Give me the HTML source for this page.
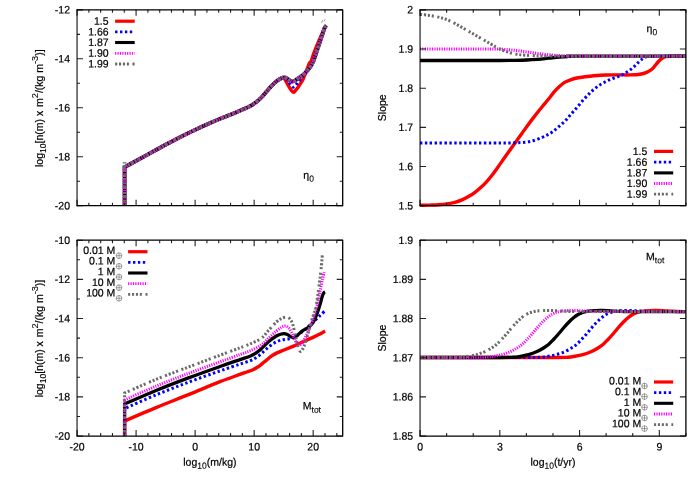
<!DOCTYPE html>
<html><head><meta charset="utf-8"><title>plot</title>
<style>
html,body{margin:0;padding:0;background:#fff;}
svg{display:block;will-change:transform;}
text{font-family:"Liberation Sans",sans-serif;fill:#000;stroke:#000;stroke-width:0.2px;}
</style></head><body>
<svg width="700" height="490" viewBox="0 0 700 490">
<rect width="700" height="490" fill="#fff"/>
<g id="p1">
<path d="M124.60 205.70L124.60 167.20 C127.98 165.35 137.77 160.00 144.90 156.10 C152.03 152.20 159.92 147.75 167.40 143.80 C174.88 139.85 182.32 136.02 189.80 132.40 C197.28 128.78 204.82 125.35 212.30 122.10 C219.78 118.85 229.25 115.15 234.70 112.90 C240.15 110.65 242.28 109.82 245.00 108.60 C247.72 107.38 249.17 106.65 251.00 105.60 C252.83 104.55 254.27 103.65 256.00 102.30 C257.73 100.95 259.65 99.28 261.40 97.50 C263.15 95.72 264.72 93.62 266.50 91.60 C268.28 89.58 270.27 87.25 272.10 85.40 C273.93 83.55 275.70 81.78 277.50 80.50 C279.30 79.22 281.75 78.02 282.90 77.70 C284.05 77.38 283.90 78.02 284.40 78.60 C284.90 79.18 285.37 80.25 285.90 81.20 C286.43 82.15 287.02 83.28 287.60 84.30 C288.18 85.32 288.75 86.25 289.40 87.30 C290.05 88.35 290.77 89.77 291.50 90.60 C292.23 91.43 293.02 92.47 293.80 92.30 C294.58 92.13 295.40 90.58 296.20 89.60 C297.00 88.62 297.90 87.38 298.60 86.40 C299.30 85.42 299.82 84.58 300.40 83.70 C300.98 82.82 301.55 82.08 302.10 81.10 C302.65 80.12 303.20 78.95 303.70 77.80 C304.20 76.65 304.65 75.37 305.10 74.20 C305.55 73.03 305.95 71.97 306.40 70.80 C306.85 69.63 307.32 68.43 307.80 67.20 C308.28 65.97 308.71 64.50 309.30 63.40 C309.89 62.30 310.67 62.12 311.36 60.60 C312.05 59.08 312.60 56.60 313.42 54.30 C314.24 52.00 315.27 49.30 316.29 46.80 C317.30 44.30 318.53 41.57 319.53 39.30 C320.53 37.03 321.51 34.95 322.30 33.20 C323.10 31.45 323.80 29.87 324.30 28.80 C324.80 27.73 324.97 27.33 325.30 26.80 C325.63 26.27 326.13 25.80 326.30 25.60" fill="none" stroke="#ff0000" stroke-width="3.40" stroke-linejoin="miter"/>
<path d="M124.60 205.70L124.60 167.20 C127.98 165.35 137.77 160.00 144.90 156.10 C152.03 152.20 159.92 147.75 167.40 143.80 C174.88 139.85 182.32 136.02 189.80 132.40 C197.28 128.78 204.82 125.35 212.30 122.10 C219.78 118.85 229.25 115.15 234.70 112.90 C240.15 110.65 242.28 109.82 245.00 108.60 C247.72 107.38 249.17 106.65 251.00 105.60 C252.83 104.55 254.27 103.65 256.00 102.30 C257.73 100.95 259.65 99.28 261.40 97.50 C263.15 95.72 264.72 93.62 266.50 91.60 C268.28 89.58 270.27 87.25 272.10 85.40 C273.93 83.55 275.70 81.78 277.50 80.50 C279.30 79.22 281.65 78.05 282.90 77.70 C284.15 77.35 284.28 77.97 285.00 78.40 C285.72 78.83 286.37 79.38 287.20 80.30 C288.03 81.22 289.00 82.75 290.00 83.90 C291.00 85.05 292.07 87.20 293.20 87.20 C294.33 87.20 295.67 85.10 296.80 83.90 C297.93 82.70 299.05 81.20 300.00 80.00 C300.95 78.80 301.67 77.80 302.50 76.70 C303.33 75.60 304.20 74.45 305.00 73.40 C305.80 72.35 306.47 71.48 307.30 70.40 C308.13 69.32 309.28 67.90 310.00 66.90 C310.72 65.90 311.06 65.45 311.60 64.40 C312.14 63.35 312.60 62.28 313.21 60.60 C313.83 58.92 314.53 56.60 315.30 54.30 C316.08 52.00 317.01 49.30 317.88 46.80 C318.75 44.30 319.73 41.57 320.54 39.30 C321.34 37.03 322.07 34.95 322.70 33.20 C323.32 31.45 323.87 29.87 324.30 28.80 C324.73 27.73 324.97 27.33 325.30 26.80 C325.63 26.27 326.13 25.80 326.30 25.60" fill="none" stroke="#0000ff" stroke-width="3.00" stroke-linejoin="miter" stroke-dasharray="2.4 2.5"/>
<path d="M124.60 205.70L124.60 167.20 C127.98 165.35 137.77 160.00 144.90 156.10 C152.03 152.20 159.92 147.75 167.40 143.80 C174.88 139.85 182.32 136.02 189.80 132.40 C197.28 128.78 204.82 125.35 212.30 122.10 C219.78 118.85 229.25 115.15 234.70 112.90 C240.15 110.65 242.28 109.82 245.00 108.60 C247.72 107.38 249.17 106.65 251.00 105.60 C252.83 104.55 254.27 103.65 256.00 102.30 C257.73 100.95 259.65 99.28 261.40 97.50 C263.15 95.72 264.72 93.62 266.50 91.60 C268.28 89.58 270.27 87.25 272.10 85.40 C273.93 83.55 275.70 81.80 277.50 80.50 C279.30 79.20 281.57 78.08 282.90 77.60 C284.23 77.12 284.67 77.37 285.50 77.60 C286.33 77.83 287.10 78.48 287.90 79.00 C288.70 79.52 289.53 80.28 290.30 80.70 C291.07 81.12 291.80 81.47 292.50 81.50 C293.20 81.53 293.85 81.22 294.50 80.90 C295.15 80.58 295.48 80.25 296.40 79.60 C297.32 78.95 298.80 77.87 300.00 77.00 C301.20 76.13 302.42 75.42 303.60 74.40 C304.78 73.38 306.03 72.08 307.10 70.90 C308.17 69.72 309.22 68.35 310.00 67.30 C310.78 66.25 311.18 65.72 311.80 64.60 C312.42 63.48 313.03 62.32 313.70 60.60 C314.37 58.88 315.03 56.60 315.80 54.30 C316.57 52.00 317.47 49.30 318.30 46.80 C319.13 44.30 320.05 41.57 320.80 39.30 C321.55 37.03 322.22 34.95 322.80 33.20 C323.38 31.45 323.88 29.87 324.30 28.80 C324.72 27.73 324.97 27.33 325.30 26.80 C325.63 26.27 326.13 25.80 326.30 25.60" fill="none" stroke="#000000" stroke-width="3.80" stroke-linejoin="miter"/>
<path d="M124.60 205.70L124.60 167.20 C127.98 165.35 137.77 160.00 144.90 156.10 C152.03 152.20 159.92 147.75 167.40 143.80 C174.88 139.85 182.32 136.02 189.80 132.40 C197.28 128.78 204.82 125.35 212.30 122.10 C219.78 118.85 229.25 115.15 234.70 112.90 C240.15 110.65 242.28 109.82 245.00 108.60 C247.72 107.38 249.17 106.65 251.00 105.60 C252.83 104.55 254.27 103.65 256.00 102.30 C257.73 100.95 259.65 99.28 261.40 97.50 C263.15 95.72 264.72 93.62 266.50 91.60 C268.28 89.58 270.27 87.25 272.10 85.40 C273.93 83.55 275.70 81.80 277.50 80.50 C279.30 79.20 281.57 78.08 282.90 77.60 C284.23 77.12 284.67 77.37 285.50 77.60 C286.33 77.83 287.10 78.48 287.90 79.00 C288.70 79.52 289.53 80.28 290.30 80.70 C291.07 81.12 291.80 81.47 292.50 81.50 C293.20 81.53 293.85 81.22 294.50 80.90 C295.15 80.58 295.48 80.25 296.40 79.60 C297.32 78.95 298.80 77.87 300.00 77.00 C301.20 76.13 302.42 75.42 303.60 74.40 C304.78 73.38 306.03 72.08 307.10 70.90 C308.17 69.72 309.22 68.35 310.00 67.30 C310.78 66.25 311.18 65.72 311.80 64.60 C312.42 63.48 313.03 62.32 313.70 60.60 C314.37 58.88 315.03 56.60 315.80 54.30 C316.57 52.00 317.47 49.30 318.30 46.80 C319.13 44.30 320.05 41.57 320.80 39.30 C321.55 37.03 322.22 34.95 322.80 33.20 C323.38 31.45 323.88 29.87 324.30 28.80 C324.72 27.73 324.97 27.33 325.30 26.80 C325.63 26.27 326.13 25.80 326.30 25.60" fill="none" stroke="#ff00ff" stroke-width="3.80" stroke-linejoin="miter" stroke-dasharray="1.2 1.2"/>
<path d="M124.60 205.70L124.60 162.30L124.60 167.20 C127.98 165.35 137.77 160.00 144.90 156.10 C152.03 152.20 159.92 147.75 167.40 143.80 C174.88 139.85 182.32 136.02 189.80 132.40 C197.28 128.78 204.82 125.35 212.30 122.10 C219.78 118.85 229.25 115.15 234.70 112.90 C240.15 110.65 242.28 109.82 245.00 108.60 C247.72 107.38 249.17 106.65 251.00 105.60 C252.83 104.55 254.27 103.65 256.00 102.30 C257.73 100.95 259.65 99.28 261.40 97.50 C263.15 95.72 264.72 93.62 266.50 91.60 C268.28 89.58 270.27 87.25 272.10 85.40 C273.93 83.55 275.70 81.80 277.50 80.50 C279.30 79.20 281.57 78.08 282.90 77.60 C284.23 77.12 284.67 77.37 285.50 77.60 C286.33 77.83 287.10 78.48 287.90 79.00 C288.70 79.52 289.53 80.28 290.30 80.70 C291.07 81.12 291.80 81.47 292.50 81.50 C293.20 81.53 293.85 81.22 294.50 80.90 C295.15 80.58 295.48 80.25 296.40 79.60 C297.32 78.95 298.80 77.87 300.00 77.00 C301.20 76.13 302.42 75.42 303.60 74.40 C304.78 73.38 306.03 72.08 307.10 70.90 C308.17 69.72 309.22 68.35 310.00 67.30 C310.78 66.25 311.18 65.72 311.80 64.60 C312.42 63.48 313.03 62.32 313.70 60.60 C314.37 58.88 315.03 56.60 315.80 54.30 C316.57 52.00 317.47 49.30 318.30 46.80 C319.13 44.30 320.05 41.57 320.80 39.30 C321.55 37.03 322.22 34.95 322.80 33.20 C323.38 31.45 323.88 29.87 324.30 28.80 C324.72 27.73 324.97 27.33 325.30 26.80 C325.63 26.27 326.13 25.80 326.30 25.60" fill="none" stroke="#6a6a6a" stroke-width="3.80" stroke-linejoin="miter" stroke-dasharray="2.1 1.8 2.1 1.8 2.1 1.8 2.1 3.6"/>
<path d="M321.6 22.6L322.8 20.2M323.9 21.2L325.2 19.4" stroke="#888" stroke-width="0.9" fill="none"/>
</g>
<g id="p3">
<path d="M124.60 436.05L124.60 420.90 C129.83 418.68 145.35 411.98 156.00 407.60 C166.65 403.22 177.83 398.92 188.50 394.60 C199.17 390.28 211.42 385.07 220.00 381.70 C228.58 378.33 235.50 376.02 240.00 374.40 C244.50 372.78 244.85 372.77 247.00 372.00 C249.15 371.23 251.18 370.58 252.90 369.80 C254.62 369.02 255.88 368.22 257.30 367.30 C258.72 366.38 259.82 365.55 261.40 364.30 C262.98 363.05 265.02 361.23 266.80 359.80 C268.58 358.37 270.32 356.90 272.10 355.70 C273.88 354.50 275.70 353.48 277.50 352.60 C279.30 351.72 280.22 351.48 282.90 350.40 C285.58 349.32 290.03 347.65 293.60 346.10 C297.17 344.55 300.73 342.72 304.30 341.10 C307.87 339.48 311.53 338.07 315.00 336.40 C318.47 334.73 323.42 331.98 325.10 331.10" fill="none" stroke="#ff0000" stroke-width="3.40" stroke-linejoin="miter"/>
<path d="M124.60 436.05L124.60 408.60 C129.83 406.32 145.35 399.30 156.00 394.90 C166.65 390.50 177.83 386.20 188.50 382.20 C199.17 378.20 211.42 373.92 220.00 370.90 C228.58 367.88 235.00 365.80 240.00 364.10 C245.00 362.40 247.50 361.67 250.00 360.70 C252.50 359.73 253.25 359.35 255.00 358.30 C256.75 357.25 258.72 355.85 260.50 354.40 C262.28 352.95 263.95 351.12 265.70 349.60 C267.45 348.08 269.22 346.60 271.00 345.30 C272.78 344.00 274.73 342.65 276.40 341.80 C278.07 340.95 279.57 340.60 281.00 340.20 C282.43 339.80 283.58 339.63 285.00 339.40 C286.42 339.17 288.07 339.12 289.50 338.80 C290.93 338.48 292.02 338.27 293.60 337.50 C295.18 336.73 297.22 335.45 299.00 334.20 C300.78 332.95 302.53 331.47 304.30 330.00 C306.07 328.53 307.82 327.00 309.60 325.40 C311.38 323.80 313.27 322.03 315.00 320.40 C316.73 318.77 318.32 317.22 320.00 315.60 C321.68 313.98 324.25 311.52 325.10 310.70" fill="none" stroke="#0000ff" stroke-width="3.00" stroke-linejoin="miter" stroke-dasharray="2.4 2.5"/>
<path d="M124.60 436.05L124.60 404.10 C129.83 401.83 145.35 394.87 156.00 390.50 C166.65 386.13 177.83 381.90 188.50 377.90 C199.17 373.90 211.42 369.55 220.00 366.50 C228.58 363.45 235.00 361.32 240.00 359.60 C245.00 357.88 247.50 357.20 250.00 356.20 C252.50 355.20 253.25 354.73 255.00 353.60 C256.75 352.47 258.72 350.95 260.50 349.40 C262.28 347.85 263.95 345.93 265.70 344.30 C267.45 342.67 269.22 340.98 271.00 339.60 C272.78 338.22 274.82 336.90 276.40 336.00 C277.98 335.10 279.25 334.60 280.50 334.20 C281.75 333.80 282.77 333.57 283.90 333.60 C285.03 333.63 286.22 333.93 287.30 334.40 C288.38 334.87 289.35 335.87 290.40 336.40 C291.45 336.93 292.42 337.80 293.60 337.60 C294.78 337.40 296.08 336.28 297.50 335.20 C298.92 334.12 300.68 332.17 302.10 331.10 C303.52 330.03 304.75 329.58 306.00 328.80 C307.25 328.02 308.52 327.33 309.60 326.40 C310.68 325.47 311.60 324.47 312.50 323.20 C313.40 321.93 314.12 320.75 315.00 318.80 C315.88 316.85 316.90 314.08 317.80 311.50 C318.70 308.92 319.62 305.97 320.40 303.30 C321.18 300.63 321.90 297.28 322.50 295.50 C323.10 293.72 323.57 293.17 324.00 292.60 C324.43 292.03 324.92 292.18 325.10 292.10" fill="none" stroke="#000000" stroke-width="3.30" stroke-linejoin="miter"/>
<path d="M124.60 436.05L124.60 399.90 C129.83 397.62 145.35 390.62 156.00 386.20 C166.65 381.78 177.83 377.45 188.50 373.40 C199.17 369.35 211.42 365.03 220.00 361.90 C228.58 358.77 235.00 356.43 240.00 354.60 C245.00 352.77 246.43 352.52 250.00 350.90 C253.57 349.28 258.23 347.08 261.40 344.90 C264.57 342.72 266.50 340.10 269.00 337.80 C271.50 335.50 274.32 332.85 276.40 331.10 C278.48 329.35 280.00 328.13 281.50 327.30 C283.00 326.47 284.18 325.98 285.40 326.10 C286.62 326.22 287.80 327.00 288.80 328.00 C289.80 329.00 290.63 330.68 291.40 332.10 C292.17 333.52 292.75 335.07 293.40 336.50 C294.05 337.93 294.70 339.45 295.30 340.70 C295.90 341.95 296.40 343.22 297.00 344.00 C297.60 344.78 298.15 345.47 298.90 345.40 C299.65 345.33 300.60 344.57 301.50 343.60 C302.40 342.63 303.38 341.20 304.30 339.60 C305.22 338.00 306.12 335.95 307.00 334.00 C307.88 332.05 308.72 329.98 309.60 327.90 C310.48 325.82 311.40 323.90 312.30 321.50 C313.20 319.10 314.05 316.92 315.00 313.50 C315.95 310.08 317.10 305.03 318.00 301.00 C318.90 296.97 319.65 292.97 320.40 289.30 C321.15 285.63 321.87 281.87 322.50 279.00 C323.13 276.13 323.92 273.25 324.20 272.10" fill="none" stroke="#ff00ff" stroke-width="3.00" stroke-linejoin="miter" stroke-dasharray="1.2 1.2"/>
<path d="M124.60 436.05L124.60 393.00 C129.83 390.73 145.35 383.73 156.00 379.40 C166.65 375.07 177.83 371.03 188.50 367.00 C199.17 362.97 211.42 358.40 220.00 355.20 C228.58 352.00 235.00 349.68 240.00 347.80 C245.00 345.92 246.43 345.48 250.00 343.90 C253.57 342.32 258.23 340.65 261.40 338.30 C264.57 335.95 266.50 332.52 269.00 329.80 C271.50 327.08 274.32 323.88 276.40 322.00 C278.48 320.12 279.88 319.32 281.50 318.50 C283.12 317.68 284.72 317.05 286.10 317.10 C287.48 317.15 288.73 317.72 289.80 318.80 C290.87 319.88 291.73 321.57 292.50 323.60 C293.27 325.63 293.80 328.50 294.40 331.00 C295.00 333.50 295.47 335.93 296.10 338.60 C296.73 341.27 297.45 344.87 298.20 347.00 C298.95 349.13 299.72 351.32 300.60 351.40 C301.48 351.48 302.53 349.47 303.50 347.50 C304.47 345.53 305.55 342.27 306.40 339.60 C307.25 336.93 307.88 334.17 308.60 331.50 C309.32 328.83 309.90 326.35 310.70 323.60 C311.50 320.85 312.50 317.87 313.40 315.00 C314.30 312.13 315.12 311.57 316.10 306.40 C317.08 301.23 318.42 290.73 319.30 284.00 C320.18 277.27 320.87 271.18 321.40 266.00 C321.93 260.82 322.32 255.08 322.50 252.90" fill="none" stroke="#6a6a6a" stroke-width="3.00" stroke-linejoin="miter" stroke-dasharray="2.1 1.8 2.1 1.8 2.1 1.8 2.1 3.6"/>
</g>
<g id="p2">
<path d="M420.05 205.20 C421.71 205.18 426.93 205.17 430.00 205.10 C433.07 205.03 435.67 205.00 438.50 204.80 C441.33 204.60 444.27 204.30 447.00 203.90 C449.73 203.50 452.40 203.07 454.90 202.40 C457.40 201.73 459.67 200.92 462.00 199.90 C464.33 198.88 466.73 197.57 468.90 196.30 C471.07 195.03 473.03 193.75 475.00 192.30 C476.97 190.85 478.78 189.35 480.70 187.60 C482.62 185.85 484.55 183.95 486.50 181.80 C488.45 179.65 490.48 177.17 492.40 174.70 C494.32 172.23 496.05 169.73 498.00 167.00 C499.95 164.27 502.10 161.13 504.10 158.30 C506.10 155.47 508.05 152.73 510.00 150.00 C511.95 147.27 513.85 144.62 515.80 141.90 C517.75 139.18 519.73 136.43 521.70 133.70 C523.67 130.97 525.63 128.18 527.60 125.50 C529.57 122.82 531.55 120.15 533.50 117.60 C535.45 115.05 537.38 112.58 539.30 110.20 C541.22 107.82 543.22 105.47 545.00 103.30 C546.78 101.13 548.37 99.22 550.00 97.20 C551.63 95.18 553.18 93.03 554.80 91.20 C556.42 89.37 558.07 87.67 559.70 86.20 C561.33 84.73 562.80 83.47 564.60 82.40 C566.40 81.33 568.47 80.53 570.50 79.80 C572.53 79.07 574.38 78.52 576.80 78.00 C579.22 77.48 582.13 77.08 585.00 76.70 C587.87 76.32 590.50 75.98 594.00 75.70 C597.50 75.42 601.92 75.13 606.00 75.00 C610.08 74.87 614.50 74.92 618.50 74.90 C622.50 74.88 626.43 75.02 630.00 74.90 C633.57 74.78 637.13 74.62 639.90 74.20 C642.67 73.78 644.55 73.27 646.60 72.40 C648.65 71.53 650.70 70.23 652.20 69.00 C653.70 67.77 654.47 66.33 655.60 65.00 C656.73 63.67 657.85 62.17 659.00 61.00 C660.15 59.83 661.33 58.72 662.50 58.00 C663.67 57.28 664.75 57.00 666.00 56.70 C667.25 56.40 666.68 56.28 670.00 56.20 C673.32 56.12 683.25 56.20 685.90 56.20" fill="none" stroke="#ff0000" stroke-width="3.40" stroke-linejoin="round"/>
<path d="M420.05 143.00 C433.38 143.00 484.18 143.03 500.00 143.00 C515.83 142.97 510.83 142.93 515.00 142.80 C519.17 142.67 522.00 142.53 525.00 142.20 C528.00 141.87 530.23 141.57 533.00 140.80 C535.77 140.03 539.20 138.58 541.60 137.60 C544.00 136.62 545.50 135.92 547.40 134.90 C549.30 133.88 551.10 132.87 553.00 131.50 C554.90 130.13 556.77 128.47 558.80 126.70 C560.83 124.93 563.10 123.05 565.20 120.90 C567.30 118.75 569.30 116.20 571.40 113.80 C573.50 111.40 575.67 108.98 577.80 106.50 C579.93 104.02 582.25 101.08 584.20 98.90 C586.15 96.72 587.87 95.00 589.50 93.40 C591.13 91.80 592.42 90.63 594.00 89.30 C595.58 87.97 597.32 86.53 599.00 85.40 C600.68 84.27 602.32 83.45 604.10 82.50 C605.88 81.55 607.83 80.53 609.70 79.70 C611.57 78.87 613.43 78.18 615.30 77.50 C617.17 76.82 619.22 76.35 620.90 75.60 C622.58 74.85 623.90 73.90 625.40 73.00 C626.90 72.10 628.40 71.32 629.90 70.20 C631.40 69.08 632.90 67.70 634.40 66.30 C635.90 64.90 637.50 63.08 638.90 61.80 C640.30 60.52 641.58 59.42 642.80 58.60 C644.02 57.78 644.95 57.30 646.20 56.90 C647.45 56.50 643.68 56.32 650.30 56.20 C656.92 56.08 679.97 56.20 685.90 56.20" fill="none" stroke="#0000ff" stroke-width="3.00" stroke-linejoin="round" stroke-dasharray="2.4 2.5"/>
<path d="M420.05 60.50 C433.38 60.50 484.18 60.53 500.00 60.50 C515.83 60.47 510.50 60.38 515.00 60.30 C519.50 60.22 523.27 60.15 527.00 60.00 C530.73 59.85 534.40 59.62 537.40 59.40 C540.40 59.18 542.57 58.97 545.00 58.70 C547.43 58.43 549.55 58.08 552.00 57.80 C554.45 57.52 557.03 57.22 559.70 57.00 C562.37 56.78 564.95 56.63 568.00 56.50 C571.05 56.37 558.35 56.25 578.00 56.20 C597.65 56.15 667.92 56.20 685.90 56.20" fill="none" stroke="#000000" stroke-width="3.30" stroke-linejoin="round"/>
<path d="M420.05 48.90 C431.71 48.90 476.68 48.85 490.00 48.90 C503.32 48.95 496.83 49.05 500.00 49.20 C503.17 49.35 506.17 49.57 509.00 49.80 C511.83 50.03 514.33 50.28 517.00 50.60 C519.67 50.92 522.33 51.33 525.00 51.70 C527.67 52.07 530.25 52.43 533.00 52.80 C535.75 53.17 538.67 53.57 541.50 53.90 C544.33 54.23 547.25 54.55 550.00 54.80 C552.75 55.05 555.33 55.23 558.00 55.40 C560.67 55.57 562.67 55.68 566.00 55.80 C569.33 55.92 574.00 56.03 578.00 56.10 C582.00 56.17 572.02 56.18 590.00 56.20 C607.98 56.22 669.92 56.20 685.90 56.20" fill="none" stroke="#ff00ff" stroke-width="3.00" stroke-linejoin="round" stroke-dasharray="1.2 1.2"/>
<path d="M420.05 14.40 C421.38 14.53 425.44 14.85 428.00 15.20 C430.56 15.55 433.15 16.05 435.40 16.50 C437.65 16.95 439.45 17.33 441.50 17.90 C443.55 18.47 445.48 18.98 447.70 19.90 C449.92 20.82 452.43 22.15 454.80 23.40 C457.17 24.65 459.53 26.05 461.90 27.40 C464.27 28.75 466.62 30.13 469.00 31.50 C471.38 32.87 473.82 34.23 476.20 35.60 C478.58 36.97 480.92 38.33 483.30 39.70 C485.68 41.07 488.45 42.63 490.50 43.80 C492.55 44.97 493.90 45.78 495.60 46.70 C497.30 47.62 498.80 48.45 500.70 49.30 C502.60 50.15 504.95 51.10 507.00 51.80 C509.05 52.50 511.00 53.03 513.00 53.50 C515.00 53.97 516.97 54.32 519.00 54.60 C521.03 54.88 522.87 55.03 525.20 55.20 C527.53 55.37 530.28 55.48 533.00 55.60 C535.72 55.72 537.83 55.82 541.50 55.90 C545.17 55.98 550.25 56.05 555.00 56.10 C559.75 56.15 548.18 56.18 570.00 56.20 C591.82 56.22 666.58 56.20 685.90 56.20" fill="none" stroke="#6a6a6a" stroke-width="3.00" stroke-linejoin="round" stroke-dasharray="2.1 1.8 2.1 1.8 2.1 1.8 2.1 3.6"/>
</g>
<g id="p4">
<path d="M420.05 357.50 C428.88 357.50 450.84 357.50 473.00 357.50 C495.16 357.50 537.17 357.55 553.00 357.50 C568.83 357.45 564.33 357.40 568.00 357.20 C571.67 357.00 572.50 356.73 575.00 356.30 C577.50 355.87 580.33 355.35 583.00 354.60 C585.67 353.85 588.50 352.90 591.00 351.80 C593.50 350.70 596.00 349.22 598.00 348.00 C600.00 346.78 601.33 345.92 603.00 344.50 C604.67 343.08 606.33 341.25 608.00 339.50 C609.67 337.75 611.33 335.92 613.00 334.00 C614.67 332.08 616.33 329.92 618.00 328.00 C619.67 326.08 621.33 324.20 623.00 322.50 C624.67 320.80 626.33 319.17 628.00 317.80 C629.67 316.43 631.33 315.23 633.00 314.30 C634.67 313.37 636.33 312.73 638.00 312.20 C639.67 311.67 641.17 311.37 643.00 311.10 C644.83 310.83 646.67 310.70 649.00 310.60 C651.33 310.50 654.33 310.45 657.00 310.50 C659.67 310.55 662.33 310.77 665.00 310.90 C667.67 311.03 670.00 311.18 673.00 311.30 C676.00 311.42 680.85 311.55 683.00 311.60 C685.15 311.65 685.42 311.60 685.90 311.60" fill="none" stroke="#ff0000" stroke-width="3.40" stroke-linejoin="round"/>
<path d="M420.05 357.50 C424.46 357.50 428.76 357.50 446.50 357.50 C464.24 357.50 510.67 357.55 526.50 357.50 C542.33 357.45 537.83 357.40 541.50 357.20 C545.17 357.00 546.00 356.73 548.50 356.30 C551.00 355.87 553.83 355.35 556.50 354.60 C559.17 353.85 562.00 352.90 564.50 351.80 C567.00 350.70 569.50 349.22 571.50 348.00 C573.50 346.78 574.83 345.92 576.50 344.50 C578.17 343.08 579.83 341.25 581.50 339.50 C583.17 337.75 584.83 335.92 586.50 334.00 C588.17 332.08 589.83 329.92 591.50 328.00 C593.17 326.08 594.83 324.20 596.50 322.50 C598.17 320.80 599.83 319.17 601.50 317.80 C603.17 316.43 604.83 315.23 606.50 314.30 C608.17 313.37 609.83 312.73 611.50 312.20 C613.17 311.67 614.67 311.37 616.50 311.10 C618.33 310.83 620.17 310.70 622.50 310.60 C624.83 310.50 627.83 310.45 630.50 310.50 C633.17 310.55 635.83 310.77 638.50 310.90 C641.17 311.03 643.50 311.18 646.50 311.30 C649.50 311.42 651.50 311.55 656.50 311.60 C661.50 311.65 671.60 311.60 676.50 311.60 C681.40 311.60 684.33 311.60 685.90 311.60" fill="none" stroke="#0000ff" stroke-width="3.00" stroke-linejoin="round" stroke-dasharray="2.4 2.5"/>
<path d="M420.05 357.50 C433.12 357.50 482.93 357.55 498.50 357.50 C514.08 357.45 509.83 357.40 513.50 357.20 C517.17 357.00 518.00 356.73 520.50 356.30 C523.00 355.87 525.83 355.35 528.50 354.60 C531.17 353.85 534.00 352.90 536.50 351.80 C539.00 350.70 541.50 349.22 543.50 348.00 C545.50 346.78 546.83 345.92 548.50 344.50 C550.17 343.08 551.83 341.25 553.50 339.50 C555.17 337.75 556.83 335.92 558.50 334.00 C560.17 332.08 561.83 329.92 563.50 328.00 C565.17 326.08 566.83 324.20 568.50 322.50 C570.17 320.80 571.83 319.17 573.50 317.80 C575.17 316.43 576.83 315.23 578.50 314.30 C580.17 313.37 581.83 312.73 583.50 312.20 C585.17 311.67 586.67 311.37 588.50 311.10 C590.33 310.83 592.17 310.70 594.50 310.60 C596.83 310.50 599.83 310.45 602.50 310.50 C605.17 310.55 607.83 310.77 610.50 310.90 C613.17 311.03 615.50 311.18 618.50 311.30 C621.50 311.42 623.50 311.55 628.50 311.60 C633.50 311.65 638.93 311.60 648.50 311.60 C658.07 311.60 679.67 311.60 685.90 311.60" fill="none" stroke="#000000" stroke-width="3.30" stroke-linejoin="round"/>
<path d="M420.05 357.50 C428.71 357.50 460.84 357.55 472.00 357.50 C483.16 357.45 483.33 357.40 487.00 357.20 C490.67 357.00 491.50 356.73 494.00 356.30 C496.50 355.87 499.33 355.35 502.00 354.60 C504.67 353.85 507.50 352.90 510.00 351.80 C512.50 350.70 515.00 349.22 517.00 348.00 C519.00 346.78 520.33 345.92 522.00 344.50 C523.67 343.08 525.33 341.25 527.00 339.50 C528.67 337.75 530.33 335.92 532.00 334.00 C533.67 332.08 535.33 329.92 537.00 328.00 C538.67 326.08 540.33 324.20 542.00 322.50 C543.67 320.80 545.33 319.17 547.00 317.80 C548.67 316.43 550.33 315.23 552.00 314.30 C553.67 313.37 555.33 312.73 557.00 312.20 C558.67 311.67 560.17 311.37 562.00 311.10 C563.83 310.83 565.67 310.70 568.00 310.60 C570.33 310.50 573.33 310.45 576.00 310.50 C578.67 310.55 581.33 310.77 584.00 310.90 C586.67 311.03 589.00 311.18 592.00 311.30 C595.00 311.42 597.00 311.55 602.00 311.60 C607.00 311.65 608.02 311.60 622.00 311.60 C635.98 311.60 675.25 311.60 685.90 311.60" fill="none" stroke="#ff00ff" stroke-width="3.00" stroke-linejoin="round" stroke-dasharray="1.2 1.2"/>
<path d="M420.05 357.50 C424.46 357.50 439.59 357.55 446.50 357.50 C453.41 357.45 457.83 357.40 461.50 357.20 C465.17 357.00 466.00 356.73 468.50 356.30 C471.00 355.87 473.83 355.35 476.50 354.60 C479.17 353.85 482.00 352.90 484.50 351.80 C487.00 350.70 489.50 349.22 491.50 348.00 C493.50 346.78 494.83 345.92 496.50 344.50 C498.17 343.08 499.83 341.25 501.50 339.50 C503.17 337.75 504.83 335.92 506.50 334.00 C508.17 332.08 509.83 329.92 511.50 328.00 C513.17 326.08 514.83 324.20 516.50 322.50 C518.17 320.80 519.83 319.17 521.50 317.80 C523.17 316.43 524.83 315.23 526.50 314.30 C528.17 313.37 529.83 312.73 531.50 312.20 C533.17 311.67 534.67 311.37 536.50 311.10 C538.33 310.83 540.17 310.70 542.50 310.60 C544.83 310.50 547.83 310.45 550.50 310.50 C553.17 310.55 555.83 310.77 558.50 310.90 C561.17 311.03 563.50 311.18 566.50 311.30 C569.50 311.42 571.50 311.55 576.50 311.60 C581.50 311.65 578.27 311.60 596.50 311.60 C614.73 311.60 671.00 311.60 685.90 311.60" fill="none" stroke="#6a6a6a" stroke-width="3.00" stroke-linejoin="round" stroke-dasharray="2.1 1.8 2.1 1.8 2.1 1.8 2.1 3.6"/>
</g>
<path d="M77.05 205.70L77.05 199.70 M77.05 9.85L77.05 15.85 M136.08 205.70L136.08 199.70 M136.08 9.85L136.08 15.85 M195.12 205.70L195.12 199.70 M195.12 9.85L195.12 15.85 M254.15 205.70L254.15 199.70 M254.15 9.85L254.15 15.85 M313.18 205.70L313.18 199.70 M313.18 9.85L313.18 15.85 M88.86 205.70L88.86 202.70 M88.86 9.85L88.86 12.85 M100.66 205.70L100.66 202.70 M100.66 9.85L100.66 12.85 M112.47 205.70L112.47 202.70 M112.47 9.85L112.47 12.85 M124.28 205.70L124.28 202.70 M124.28 9.85L124.28 12.85 M147.89 205.70L147.89 202.70 M147.89 9.85L147.89 12.85 M159.70 205.70L159.70 202.70 M159.70 9.85L159.70 12.85 M171.50 205.70L171.50 202.70 M171.50 9.85L171.50 12.85 M183.31 205.70L183.31 202.70 M183.31 9.85L183.31 12.85 M206.92 205.70L206.92 202.70 M206.92 9.85L206.92 12.85 M218.73 205.70L218.73 202.70 M218.73 9.85L218.73 12.85 M230.54 205.70L230.54 202.70 M230.54 9.85L230.54 12.85 M242.34 205.70L242.34 202.70 M242.34 9.85L242.34 12.85 M265.96 205.70L265.96 202.70 M265.96 9.85L265.96 12.85 M277.76 205.70L277.76 202.70 M277.76 9.85L277.76 12.85 M289.57 205.70L289.57 202.70 M289.57 9.85L289.57 12.85 M301.38 205.70L301.38 202.70 M301.38 9.85L301.38 12.85 M324.99 205.70L324.99 202.70 M324.99 9.85L324.99 12.85 M336.80 205.70L336.80 202.70 M336.80 9.85L336.80 12.85 M77.05 9.85L83.05 9.85 M342.70 9.85L336.70 9.85 M77.05 58.81L83.05 58.81 M342.70 58.81L336.70 58.81 M77.05 107.77L83.05 107.77 M342.70 107.77L336.70 107.77 M77.05 156.74L83.05 156.74 M342.70 156.74L336.70 156.74 M77.05 205.70L83.05 205.70 M342.70 205.70L336.70 205.70 M77.05 34.33L80.05 34.33 M342.70 34.33L339.70 34.33 M77.05 83.29L80.05 83.29 M342.70 83.29L339.70 83.29 M77.05 132.26L80.05 132.26 M342.70 132.26L339.70 132.26 M77.05 181.22L80.05 181.22 M342.70 181.22L339.70 181.22" stroke="#222" stroke-width="1.10" fill="none"/>
<path d="M77.05 9.85V205.70" fill="none" stroke="#000" stroke-linecap="round" stroke-width="1.05"/>
<path d="M77.05 9.85H342.70V205.70H77.05" fill="none" stroke="#000" stroke-linejoin="round" stroke-linecap="round" stroke-width="1.30"/>
<path d="M77.05 436.05L77.05 430.05 M77.05 240.20L77.05 246.20 M136.08 436.05L136.08 430.05 M136.08 240.20L136.08 246.20 M195.12 436.05L195.12 430.05 M195.12 240.20L195.12 246.20 M254.15 436.05L254.15 430.05 M254.15 240.20L254.15 246.20 M313.18 436.05L313.18 430.05 M313.18 240.20L313.18 246.20 M88.86 436.05L88.86 433.05 M88.86 240.20L88.86 243.20 M100.66 436.05L100.66 433.05 M100.66 240.20L100.66 243.20 M112.47 436.05L112.47 433.05 M112.47 240.20L112.47 243.20 M124.28 436.05L124.28 433.05 M124.28 240.20L124.28 243.20 M147.89 436.05L147.89 433.05 M147.89 240.20L147.89 243.20 M159.70 436.05L159.70 433.05 M159.70 240.20L159.70 243.20 M171.50 436.05L171.50 433.05 M171.50 240.20L171.50 243.20 M183.31 436.05L183.31 433.05 M183.31 240.20L183.31 243.20 M206.92 436.05L206.92 433.05 M206.92 240.20L206.92 243.20 M218.73 436.05L218.73 433.05 M218.73 240.20L218.73 243.20 M230.54 436.05L230.54 433.05 M230.54 240.20L230.54 243.20 M242.34 436.05L242.34 433.05 M242.34 240.20L242.34 243.20 M265.96 436.05L265.96 433.05 M265.96 240.20L265.96 243.20 M277.76 436.05L277.76 433.05 M277.76 240.20L277.76 243.20 M289.57 436.05L289.57 433.05 M289.57 240.20L289.57 243.20 M301.38 436.05L301.38 433.05 M301.38 240.20L301.38 243.20 M324.99 436.05L324.99 433.05 M324.99 240.20L324.99 243.20 M336.80 436.05L336.80 433.05 M336.80 240.20L336.80 243.20 M77.05 240.20L83.05 240.20 M342.70 240.20L336.70 240.20 M77.05 279.37L83.05 279.37 M342.70 279.37L336.70 279.37 M77.05 318.54L83.05 318.54 M342.70 318.54L336.70 318.54 M77.05 357.71L83.05 357.71 M342.70 357.71L336.70 357.71 M77.05 396.88L83.05 396.88 M342.70 396.88L336.70 396.88 M77.05 436.05L83.05 436.05 M342.70 436.05L336.70 436.05 M77.05 259.78L80.05 259.78 M342.70 259.78L339.70 259.78 M77.05 298.95L80.05 298.95 M342.70 298.95L339.70 298.95 M77.05 338.12L80.05 338.12 M342.70 338.12L339.70 338.12 M77.05 377.30L80.05 377.30 M342.70 377.30L339.70 377.30 M77.05 416.47L80.05 416.47 M342.70 416.47L339.70 416.47" stroke="#222" stroke-width="1.10" fill="none"/>
<path d="M77.05 240.20V436.05" fill="none" stroke="#000" stroke-linecap="round" stroke-width="1.05"/>
<path d="M77.05 240.20H342.70V436.05H77.05" fill="none" stroke="#000" stroke-linejoin="round" stroke-linecap="round" stroke-width="1.30"/>
<path d="M420.05 205.70L420.05 199.70 M420.05 9.85L420.05 15.85 M499.81 205.70L499.81 199.70 M499.81 9.85L499.81 15.85 M579.56 205.70L579.56 199.70 M579.56 9.85L579.56 15.85 M659.31 205.70L659.31 199.70 M659.31 9.85L659.31 15.85 M446.63 205.70L446.63 202.70 M446.63 9.85L446.63 12.85 M473.22 205.70L473.22 202.70 M473.22 9.85L473.22 12.85 M526.39 205.70L526.39 202.70 M526.39 9.85L526.39 12.85 M552.98 205.70L552.98 202.70 M552.98 9.85L552.98 12.85 M606.14 205.70L606.14 202.70 M606.14 9.85L606.14 12.85 M632.73 205.70L632.73 202.70 M632.73 9.85L632.73 12.85 M685.90 205.70L685.90 202.70 M685.90 9.85L685.90 12.85 M420.05 205.70L426.05 205.70 M685.90 205.70L679.90 205.70 M420.05 166.53L426.05 166.53 M685.90 166.53L679.90 166.53 M420.05 127.36L426.05 127.36 M685.90 127.36L679.90 127.36 M420.05 88.19L426.05 88.19 M685.90 88.19L679.90 88.19 M420.05 49.02L426.05 49.02 M685.90 49.02L679.90 49.02 M420.05 9.85L426.05 9.85 M685.90 9.85L679.90 9.85" stroke="#222" stroke-width="1.10" fill="none"/>
<path d="M420.05 9.85V205.70" fill="none" stroke="#000" stroke-linecap="round" stroke-width="1.05"/>
<path d="M420.05 9.85H685.90V205.70H420.05" fill="none" stroke="#000" stroke-linejoin="round" stroke-linecap="round" stroke-width="1.30"/>
<path d="M420.05 436.05L420.05 430.05 M420.05 240.20L420.05 246.20 M499.81 436.05L499.81 430.05 M499.81 240.20L499.81 246.20 M579.56 436.05L579.56 430.05 M579.56 240.20L579.56 246.20 M659.31 436.05L659.31 430.05 M659.31 240.20L659.31 246.20 M446.63 436.05L446.63 433.05 M446.63 240.20L446.63 243.20 M473.22 436.05L473.22 433.05 M473.22 240.20L473.22 243.20 M526.39 436.05L526.39 433.05 M526.39 240.20L526.39 243.20 M552.98 436.05L552.98 433.05 M552.98 240.20L552.98 243.20 M606.14 436.05L606.14 433.05 M606.14 240.20L606.14 243.20 M632.73 436.05L632.73 433.05 M632.73 240.20L632.73 243.20 M685.90 436.05L685.90 433.05 M685.90 240.20L685.90 243.20 M420.05 436.05L426.05 436.05 M685.90 436.05L679.90 436.05 M420.05 396.88L426.05 396.88 M685.90 396.88L679.90 396.88 M420.05 357.71L426.05 357.71 M685.90 357.71L679.90 357.71 M420.05 318.54L426.05 318.54 M685.90 318.54L679.90 318.54 M420.05 279.37L426.05 279.37 M685.90 279.37L679.90 279.37 M420.05 240.20L426.05 240.20 M685.90 240.20L679.90 240.20" stroke="#222" stroke-width="1.10" fill="none"/>
<path d="M420.05 240.20V436.05" fill="none" stroke="#000" stroke-linecap="round" stroke-width="1.05"/>
<path d="M420.05 240.20H685.90V436.05H420.05" fill="none" stroke="#000" stroke-linejoin="round" stroke-linecap="round" stroke-width="1.30"/>
<text transform="translate(70.00 13.55) rotate(0.03) scale(1 1.04)" text-anchor="end" font-size="10.5px" >-12</text>
<text transform="translate(70.00 62.51) rotate(0.03) scale(1 1.04)" text-anchor="end" font-size="10.5px" >-14</text>
<text transform="translate(70.00 111.47) rotate(0.03) scale(1 1.04)" text-anchor="end" font-size="10.5px" >-16</text>
<text transform="translate(70.00 160.44) rotate(0.03) scale(1 1.04)" text-anchor="end" font-size="10.5px" >-18</text>
<text transform="translate(70.00 209.40) rotate(0.03) scale(1 1.04)" text-anchor="end" font-size="10.5px" >-20</text>
<text transform="translate(70.00 243.90) rotate(0.03) scale(1 1.04)" text-anchor="end" font-size="10.5px" >-10</text>
<text transform="translate(70.00 283.07) rotate(0.03) scale(1 1.04)" text-anchor="end" font-size="10.5px" >-12</text>
<text transform="translate(70.00 322.24) rotate(0.03) scale(1 1.04)" text-anchor="end" font-size="10.5px" >-14</text>
<text transform="translate(70.00 361.41) rotate(0.03) scale(1 1.04)" text-anchor="end" font-size="10.5px" >-16</text>
<text transform="translate(70.00 400.58) rotate(0.03) scale(1 1.04)" text-anchor="end" font-size="10.5px" >-18</text>
<text transform="translate(70.00 439.75) rotate(0.03) scale(1 1.04)" text-anchor="end" font-size="10.5px" >-20</text>
<text transform="translate(413.20 209.40) rotate(0.03) scale(1 1.04)" text-anchor="end" font-size="10.5px" >1.5</text>
<text transform="translate(413.20 170.23) rotate(0.03) scale(1 1.04)" text-anchor="end" font-size="10.5px" >1.6</text>
<text transform="translate(413.20 131.06) rotate(0.03) scale(1 1.04)" text-anchor="end" font-size="10.5px" >1.7</text>
<text transform="translate(413.20 91.89) rotate(0.03) scale(1 1.04)" text-anchor="end" font-size="10.5px" >1.8</text>
<text transform="translate(413.20 52.72) rotate(0.03) scale(1 1.04)" text-anchor="end" font-size="10.5px" >1.9</text>
<text transform="translate(413.20 13.55) rotate(0.03) scale(1 1.04)" text-anchor="end" font-size="10.5px" >2</text>
<text transform="translate(413.20 439.75) rotate(0.03) scale(1 1.04)" text-anchor="end" font-size="10.5px" >1.85</text>
<text transform="translate(413.20 400.58) rotate(0.03) scale(1 1.04)" text-anchor="end" font-size="10.5px" >1.86</text>
<text transform="translate(413.20 361.41) rotate(0.03) scale(1 1.04)" text-anchor="end" font-size="10.5px" >1.87</text>
<text transform="translate(413.20 322.24) rotate(0.03) scale(1 1.04)" text-anchor="end" font-size="10.5px" >1.88</text>
<text transform="translate(413.20 283.07) rotate(0.03) scale(1 1.04)" text-anchor="end" font-size="10.5px" >1.89</text>
<text transform="translate(413.20 243.90) rotate(0.03) scale(1 1.04)" text-anchor="end" font-size="10.5px" >1.9</text>
<text transform="translate(77.05 450.40) rotate(0.03) scale(1 1.04)" text-anchor="middle" font-size="10.5px" >-20</text>
<text transform="translate(136.08 450.40) rotate(0.03) scale(1 1.04)" text-anchor="middle" font-size="10.5px" >-10</text>
<text transform="translate(195.12 450.40) rotate(0.03) scale(1 1.04)" text-anchor="middle" font-size="10.5px" >0</text>
<text transform="translate(254.15 450.40) rotate(0.03) scale(1 1.04)" text-anchor="middle" font-size="10.5px" >10</text>
<text transform="translate(313.18 450.40) rotate(0.03) scale(1 1.04)" text-anchor="middle" font-size="10.5px" >20</text>
<text transform="translate(420.05 450.40) rotate(0.03) scale(1 1.04)" text-anchor="middle" font-size="10.5px" >0</text>
<text transform="translate(499.81 450.40) rotate(0.03) scale(1 1.04)" text-anchor="middle" font-size="10.5px" >3</text>
<text transform="translate(579.56 450.40) rotate(0.03) scale(1 1.04)" text-anchor="middle" font-size="10.5px" >6</text>
<text transform="translate(659.31 450.40) rotate(0.03) scale(1 1.04)" text-anchor="middle" font-size="10.5px" >9</text>
<text transform="translate(209.88 465.70) rotate(0.03) scale(1 1.04)" text-anchor="middle" font-size="10.5px" ><tspan font-size="10.5px" dy="0.00">log</tspan><tspan font-size="8.5px" dy="2.90" stroke-width="0.1">10</tspan><tspan font-size="10.5px" dy="-2.90">(m/kg)</tspan></text>
<text transform="translate(552.98 465.70) rotate(0.03) scale(1 1.04)" text-anchor="middle" font-size="10.5px" ><tspan font-size="10.5px" dy="0.00">log</tspan><tspan font-size="8.5px" dy="2.90" stroke-width="0.1">10</tspan><tspan font-size="10.5px" dy="-2.90">(t/yr)</tspan></text>
<text transform="translate(43.3 108.17) rotate(-90) scale(1 1.04)" text-anchor="middle" font-size="10.5px"><tspan font-size="10.5px" dy="0.00">log</tspan><tspan font-size="8.5px" dy="2.90" stroke-width="0.1">10</tspan><tspan font-size="10.5px" dy="-2.90">[n(m) x</tspan><tspan font-size="10.5px" dy="0.00" dx="1.00"> m</tspan><tspan font-size="9.2px" dy="-4.70" stroke-width="0.1">2</tspan><tspan font-size="10.5px" dy="4.70">/(kg m</tspan><tspan font-size="9.2px" dy="-4.70" stroke-width="0.1">-3</tspan><tspan font-size="10.5px" dy="4.70">)]</tspan></text>
<text transform="translate(385.9 107.77) rotate(-90) scale(1 1.04)" text-anchor="middle" font-size="10.5px">Slope</text>
<text transform="translate(43.3 338.52) rotate(-90) scale(1 1.04)" text-anchor="middle" font-size="10.5px"><tspan font-size="10.5px" dy="0.00">log</tspan><tspan font-size="8.5px" dy="2.90" stroke-width="0.1">10</tspan><tspan font-size="10.5px" dy="-2.90">[n(m) x</tspan><tspan font-size="10.5px" dy="0.00" dx="1.00"> m</tspan><tspan font-size="9.2px" dy="-4.70" stroke-width="0.1">2</tspan><tspan font-size="10.5px" dy="4.70">/(kg m</tspan><tspan font-size="9.2px" dy="-4.70" stroke-width="0.1">-3</tspan><tspan font-size="10.5px" dy="4.70">)]</tspan></text>
<text transform="translate(385.9 338.12) rotate(-90) scale(1 1.04)" text-anchor="middle" font-size="10.5px">Slope</text>
<text transform="translate(303.30 178.80) rotate(0.03) scale(1 1.04)" text-anchor="start" font-size="10.5px" ><tspan font-size="10.5px" dy="0.00">&#951;</tspan><tspan font-size="8.5px" dy="2.90" stroke-width="0.1">0</tspan></text>
<text transform="translate(646.60 32.30) rotate(0.03) scale(1 1.04)" text-anchor="start" font-size="10.5px" ><tspan font-size="10.5px" dy="0.00">&#951;</tspan><tspan font-size="8.5px" dy="2.90" stroke-width="0.1">0</tspan></text>
<text transform="translate(302.80 409.60) rotate(0.03) scale(1 1.04)" text-anchor="start" font-size="10.5px" ><tspan font-size="10.5px" dy="0.00">M</tspan><tspan font-size="8.5px" dy="2.90" stroke-width="0.1">tot</tspan></text>
<text transform="translate(646.10 260.30) rotate(0.03) scale(1 1.04)" text-anchor="start" font-size="10.5px" ><tspan font-size="10.5px" dy="0.00">M</tspan><tspan font-size="8.5px" dy="2.90" stroke-width="0.1">tot</tspan></text>
<text transform="translate(108.60 24.70) rotate(0.03) scale(1 1.04)" text-anchor="end" font-size="10.5px" >1.5</text>
<path d="M115.10 21.20H134.70" stroke="#ff0000" stroke-width="3.20" fill="none"/>
<text transform="translate(108.60 35.40) rotate(0.03) scale(1 1.04)" text-anchor="end" font-size="10.5px" >1.66</text>
<path d="M115.10 31.90H134.70" stroke="#0000ff" stroke-width="2.80" fill="none" stroke-dasharray="2.4 2.5"/>
<text transform="translate(108.60 46.00) rotate(0.03) scale(1 1.04)" text-anchor="end" font-size="10.5px" >1.87</text>
<path d="M115.10 42.50H134.70" stroke="#000000" stroke-width="3.10" fill="none"/>
<text transform="translate(108.60 56.80) rotate(0.03) scale(1 1.04)" text-anchor="end" font-size="10.5px" >1.90</text>
<path d="M115.10 53.30H134.70" stroke="#ff00ff" stroke-width="2.80" fill="none" stroke-dasharray="1.2 1.2"/>
<text transform="translate(108.60 67.50) rotate(0.03) scale(1 1.04)" text-anchor="end" font-size="10.5px" >1.99</text>
<path d="M115.10 64.00H134.70" stroke="#6a6a6a" stroke-width="2.80" fill="none" stroke-dasharray="2.1 1.8 2.1 1.8 2.1 1.8 2.1 3.6"/>
<text transform="translate(647.30 154.90) rotate(0.03) scale(1 1.04)" text-anchor="end" font-size="10.5px" >1.5</text>
<path d="M654.00 151.40H673.20" stroke="#ff0000" stroke-width="3.20" fill="none"/>
<text transform="translate(647.30 165.70) rotate(0.03) scale(1 1.04)" text-anchor="end" font-size="10.5px" >1.66</text>
<path d="M654.00 162.20H673.20" stroke="#0000ff" stroke-width="2.80" fill="none" stroke-dasharray="2.4 2.5"/>
<text transform="translate(647.30 176.40) rotate(0.03) scale(1 1.04)" text-anchor="end" font-size="10.5px" >1.87</text>
<path d="M654.00 172.90H673.20" stroke="#000000" stroke-width="3.10" fill="none"/>
<text transform="translate(647.30 187.00) rotate(0.03) scale(1 1.04)" text-anchor="end" font-size="10.5px" >1.90</text>
<path d="M654.00 183.50H673.20" stroke="#ff00ff" stroke-width="2.80" fill="none" stroke-dasharray="1.2 1.2"/>
<text transform="translate(647.30 197.70) rotate(0.03) scale(1 1.04)" text-anchor="end" font-size="10.5px" >1.99</text>
<path d="M654.00 194.20H673.20" stroke="#6a6a6a" stroke-width="2.80" fill="none" stroke-dasharray="2.1 1.8 2.1 1.8 2.1 1.8 2.1 3.6"/>
<text transform="translate(115.30 254.00) rotate(0.03) scale(1 1.04)" text-anchor="end" font-size="10.5px" >0.01 M</text>
<g stroke="#444" stroke-width="0.5" fill="none"><circle cx="119.00" cy="255.70" r="2.85"/><path d="M116.15 255.70H121.85M119.00 252.85V258.55"/></g>
<path d="M128.10 251.70H147.50" stroke="#ff0000" stroke-width="3.20" fill="none"/>
<text transform="translate(115.30 264.60) rotate(0.03) scale(1 1.04)" text-anchor="end" font-size="10.5px" >0.1 M</text>
<g stroke="#444" stroke-width="0.5" fill="none"><circle cx="119.00" cy="266.30" r="2.85"/><path d="M116.15 266.30H121.85M119.00 263.45V269.15"/></g>
<path d="M128.10 262.30H147.50" stroke="#0000ff" stroke-width="2.80" fill="none" stroke-dasharray="2.4 2.5"/>
<text transform="translate(115.30 275.30) rotate(0.03) scale(1 1.04)" text-anchor="end" font-size="10.5px" >1 M</text>
<g stroke="#444" stroke-width="0.5" fill="none"><circle cx="119.00" cy="277.00" r="2.85"/><path d="M116.15 277.00H121.85M119.00 274.15V279.85"/></g>
<path d="M128.10 273.00H147.50" stroke="#000000" stroke-width="3.10" fill="none"/>
<text transform="translate(115.30 286.00) rotate(0.03) scale(1 1.04)" text-anchor="end" font-size="10.5px" >10 M</text>
<g stroke="#444" stroke-width="0.5" fill="none"><circle cx="119.00" cy="287.70" r="2.85"/><path d="M116.15 287.70H121.85M119.00 284.85V290.55"/></g>
<path d="M128.10 283.70H147.50" stroke="#ff00ff" stroke-width="2.80" fill="none" stroke-dasharray="1.2 1.2"/>
<text transform="translate(115.30 296.60) rotate(0.03) scale(1 1.04)" text-anchor="end" font-size="10.5px" >100 M</text>
<g stroke="#444" stroke-width="0.5" fill="none"><circle cx="119.00" cy="298.30" r="2.85"/><path d="M116.15 298.30H121.85M119.00 295.45V301.15"/></g>
<path d="M128.10 294.30H147.50" stroke="#6a6a6a" stroke-width="2.80" fill="none" stroke-dasharray="2.1 1.8 2.1 1.8 2.1 1.8 2.1 3.6"/>
<text transform="translate(641.20 384.60) rotate(0.03) scale(1 1.04)" text-anchor="end" font-size="10.5px" >0.01 M</text>
<g stroke="#444" stroke-width="0.5" fill="none"><circle cx="644.50" cy="386.00" r="2.85"/><path d="M641.65 386.00H647.35M644.50 383.15V388.85"/></g>
<path d="M654.00 382.00H673.20" stroke="#ff0000" stroke-width="3.20" fill="none"/>
<text transform="translate(641.20 395.20) rotate(0.03) scale(1 1.04)" text-anchor="end" font-size="10.5px" >0.1 M</text>
<g stroke="#444" stroke-width="0.5" fill="none"><circle cx="644.50" cy="396.60" r="2.85"/><path d="M641.65 396.60H647.35M644.50 393.75V399.45"/></g>
<path d="M654.00 392.60H673.20" stroke="#0000ff" stroke-width="2.80" fill="none" stroke-dasharray="2.4 2.5"/>
<text transform="translate(641.20 405.90) rotate(0.03) scale(1 1.04)" text-anchor="end" font-size="10.5px" >1 M</text>
<g stroke="#444" stroke-width="0.5" fill="none"><circle cx="644.50" cy="407.30" r="2.85"/><path d="M641.65 407.30H647.35M644.50 404.45V410.15"/></g>
<path d="M654.00 403.30H673.20" stroke="#000000" stroke-width="3.10" fill="none"/>
<text transform="translate(641.20 416.60) rotate(0.03) scale(1 1.04)" text-anchor="end" font-size="10.5px" >10 M</text>
<g stroke="#444" stroke-width="0.5" fill="none"><circle cx="644.50" cy="418.00" r="2.85"/><path d="M641.65 418.00H647.35M644.50 415.15V420.85"/></g>
<path d="M654.00 414.00H673.20" stroke="#ff00ff" stroke-width="2.80" fill="none" stroke-dasharray="1.2 1.2"/>
<text transform="translate(641.20 427.20) rotate(0.03) scale(1 1.04)" text-anchor="end" font-size="10.5px" >100 M</text>
<g stroke="#444" stroke-width="0.5" fill="none"><circle cx="644.50" cy="428.60" r="2.85"/><path d="M641.65 428.60H647.35M644.50 425.75V431.45"/></g>
<path d="M654.00 424.60H673.20" stroke="#6a6a6a" stroke-width="2.80" fill="none" stroke-dasharray="2.1 1.8 2.1 1.8 2.1 1.8 2.1 3.6"/>
</svg>
</body></html>
